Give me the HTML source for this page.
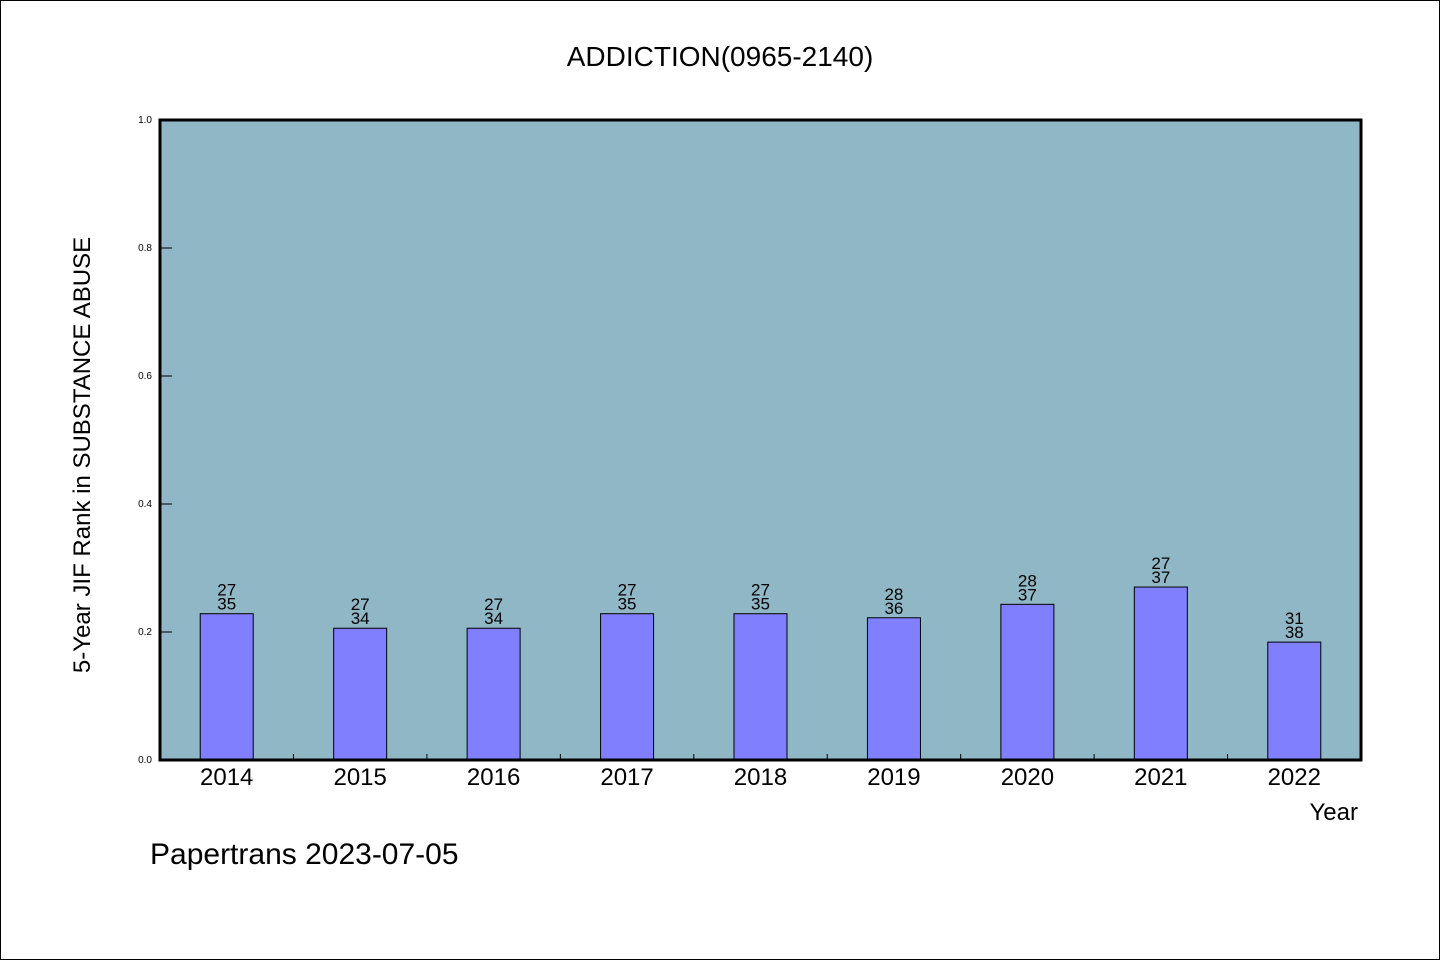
<!DOCTYPE html>
<html><head><meta charset="utf-8"><style>
body{margin:0;background:#fff}
svg{display:block;font-family:"WenQuanYi Zen Hei","Liberation Sans",sans-serif}
</style></head><body>
<svg width="1440" height="960" viewBox="0 0 1440 960">
<rect x="0.5" y="0.5" width="1439" height="959" fill="#fff" stroke="#000"/>
<text x="720" y="66" font-size="28" text-anchor="middle">ADDICTION(0965-2140)</text>
<rect x="160" y="120" width="1201" height="640" fill="#8fb7c6"/>
<g id="bars"></g>
<g id="axes"></g>
<rect x="160" y="120" width="1201" height="640" fill="none" stroke="#000" stroke-width="3"/>
<text transform="translate(90,455) rotate(-90)" font-size="24" text-anchor="middle">5-Year JIF Rank in SUBSTANCE ABUSE</text>
<text x="1358" y="820" font-size="24" text-anchor="end">Year</text>
<text x="150" y="864" font-size="30">Papertrans 2023-07-05</text>
</svg>
<script>
const years=["2014","2015","2016","2017","2018","2019","2020","2021","2022"];
const ranks=[27,27,27,27,27,28,28,27,31];
const totals=[35,34,34,35,35,36,37,37,38];
const yTicks=["0.0","0.2","0.4","0.6","0.8","1.0"];
const NS="http://www.w3.org/2000/svg";
const X0=160,X1=1361,Y0=760,Y1=120;
const band=(X1-X0)/years.length;
const xc=i=>X0+band*(i+0.5);
const ys=v=>Y0-(Y0-Y1)*v;
function mk(t,a,p){const e=document.createElementNS(NS,t);for(const k in a)e.setAttribute(k,a[k]);p.appendChild(e);return e;}
const gb=document.getElementById('bars'),ga=document.getElementById('axes');
years.forEach((y,i)=>{
 const v=1-ranks[i]/totals[i];
 const r=mk('rect',{x:xc(i)-26.5,y:ys(v),width:53,height:Y0-ys(v),fill:'#8080ff',stroke:'#000','stroke-width':1},gb);
 
 
 const t1=mk('text',{x:xc(i),y:ys(v)-18,'font-size':17,'text-anchor':'middle'},gb);t1.textContent=ranks[i];
 
 
 const t2=mk('text',{x:xc(i),y:ys(v)-4,'font-size':17,'text-anchor':'middle'},gb);t2.textContent=totals[i];
 
 
 const xl=mk('text',{x:xc(i),y:785,'font-size':24,'text-anchor':'middle'},ga);xl.textContent=y;
 
 
 if(i>0){const tk=mk('line',{x1:X0+band*i,x2:X0+band*i,y1:Y0,y2:Y0-6,stroke:'#000'},ga);
 
 }
});
yTicks.forEach(s=>{
 const v=parseFloat(s);
 const l=mk('line',{x1:X0,x2:X0+12,y1:ys(v),y2:ys(v),stroke:'#000'},ga);
 
 
 const t=mk('text',{x:152,y:ys(v)+3,'font-size':10,'text-anchor':'end'},ga);t.textContent=s;
 
 
});
</script>
</body></html>
